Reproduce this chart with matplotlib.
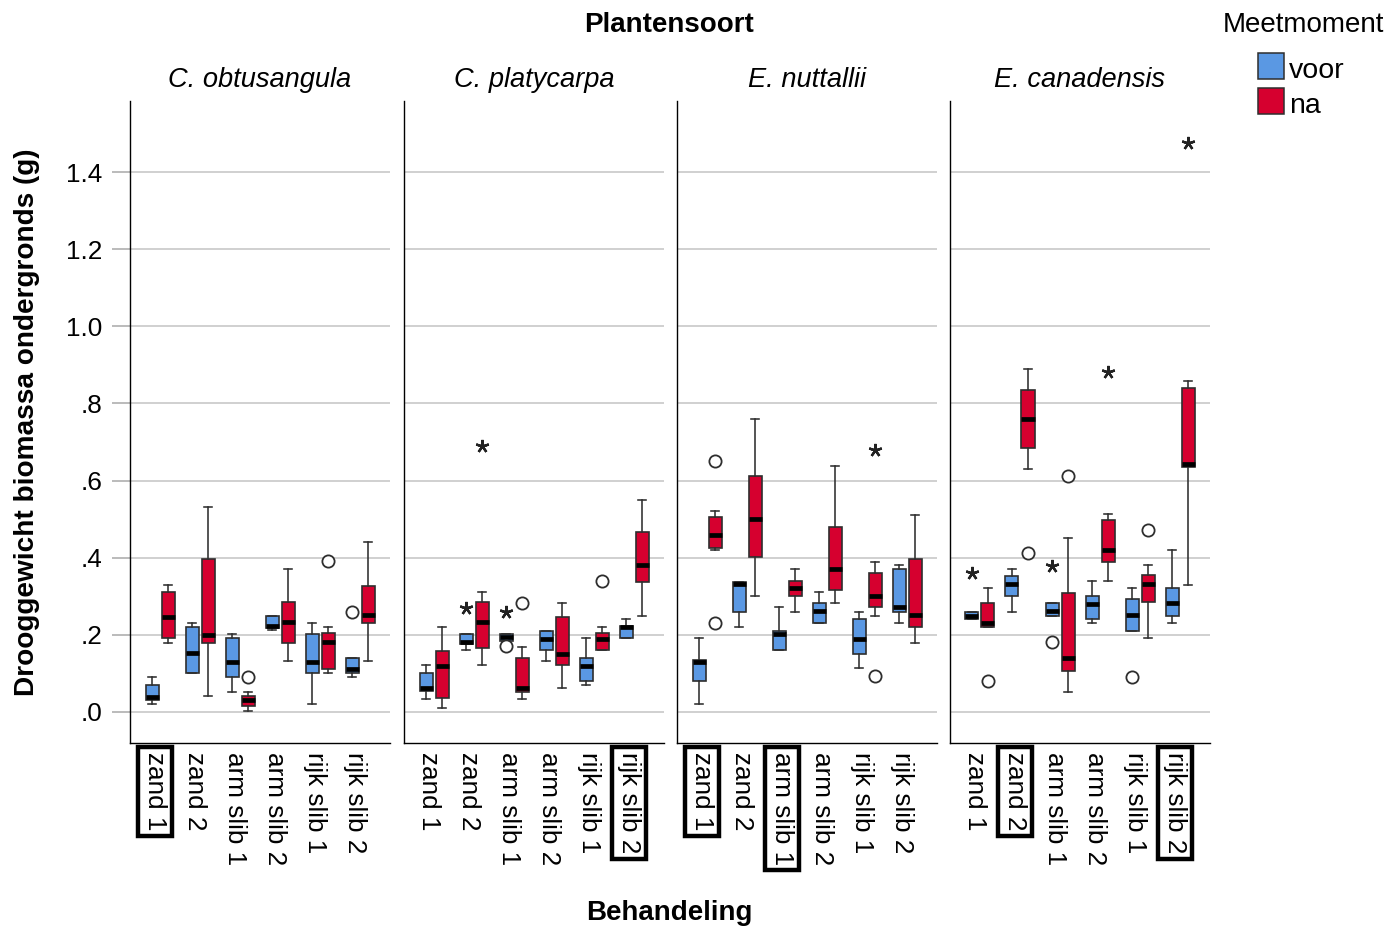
import matplotlib
matplotlib.use("Agg")
import matplotlib.pyplot as plt
from matplotlib.patches import Rectangle
from matplotlib.transforms import ScaledTranslation
import numpy as np

plt.rcParams["font.family"] = ["Liberation Sans", "DejaVu Sans"]

# ---------------------------------------------------------------- data
species = ["C. obtusangula", "C. platycarpa", "E. nuttallii", "E. canadensis"]
treatments = ["zand 1", "zand 2", "arm slib 1", "arm slib 2", "rijk slib 1", "rijk slib 2"]
moments = ["voor", "na"]

# five-number summaries per treatment: (whisker low, Q1, median, Q3, whisker high)
obtusangula_voor = [(0.020, 0.031, 0.039, 0.070, 0.089), (0.100, 0.100, 0.152, 0.221, 0.229),
                    (0.052, 0.089, 0.130, 0.191, 0.201), (0.211, 0.217, 0.223, 0.249, 0.249),
                    (0.019, 0.100, 0.130, 0.201, 0.229), (0.089, 0.100, 0.111, 0.140, 0.140)]
obtusangula_na = [(0.179, 0.192, 0.245, 0.310, 0.330), (0.042, 0.179, 0.200, 0.396, 0.530),
                  (0.001, 0.016, 0.030, 0.041, 0.052), (0.131, 0.178, 0.232, 0.284, 0.370),
                  (0.100, 0.112, 0.181, 0.203, 0.221), (0.131, 0.229, 0.251, 0.326, 0.441)]
platycarpa_voor = [(0.032, 0.054, 0.061, 0.100, 0.121), (0.160, 0.176, 0.182, 0.202, 0.202),
                   (0.184, 0.184, 0.195, 0.201, 0.201), (0.132, 0.160, 0.189, 0.210, 0.210),
                   (0.069, 0.080, 0.119, 0.140, 0.192), (0.192, 0.192, 0.219, 0.223, 0.240)]
platycarpa_na = [(0.010, 0.035, 0.119, 0.158, 0.221), (0.121, 0.166, 0.232, 0.284, 0.310),
                 (0.032, 0.050, 0.061, 0.140, 0.169), (0.061, 0.121, 0.150, 0.245, 0.281),
                 (0.160, 0.160, 0.189, 0.205, 0.221), (0.249, 0.336, 0.381, 0.466, 0.549)]
nuttallii_voor = [(0.019, 0.080, 0.128, 0.134, 0.192), (0.221, 0.259, 0.332, 0.337, 0.337),
                  (0.160, 0.160, 0.201, 0.210, 0.272), (0.230, 0.230, 0.261, 0.281, 0.310),
                  (0.113, 0.150, 0.190, 0.240, 0.259), (0.231, 0.259, 0.271, 0.370, 0.381)]
nuttallii_na = [(0.419, 0.426, 0.459, 0.505, 0.522), (0.300, 0.401, 0.501, 0.613, 0.760),
                (0.259, 0.300, 0.322, 0.338, 0.370), (0.281, 0.316, 0.370, 0.479, 0.638),
                (0.249, 0.271, 0.300, 0.361, 0.389), (0.179, 0.220, 0.251, 0.396, 0.511)]
canadensis_voor = [(0.240, 0.240, 0.248, 0.259, 0.259), (0.259, 0.300, 0.331, 0.352, 0.370),
                   (0.248, 0.248, 0.262, 0.281, 0.281), (0.229, 0.240, 0.280, 0.300, 0.339),
                   (0.210, 0.210, 0.251, 0.292, 0.320), (0.230, 0.248, 0.281, 0.320, 0.419)]
canadensis_na = [(0.221, 0.221, 0.231, 0.281, 0.320), (0.630, 0.684, 0.760, 0.835, 0.889),
                 (0.052, 0.106, 0.140, 0.307, 0.450), (0.339, 0.389, 0.420, 0.498, 0.512),
                 (0.192, 0.284, 0.331, 0.355, 0.380), (0.329, 0.636, 0.643, 0.841, 0.859)]

summaries = [
    {"voor": obtusangula_voor, "na": obtusangula_na},
    {"voor": platycarpa_voor, "na": platycarpa_na},
    {"voor": nuttallii_voor, "na": nuttallii_na},
    {"voor": canadensis_voor, "na": canadensis_na},
]

# outliers: (species index, treatment, moment, value, kind) - "o" mild, "*" extreme
outliers = [
    (0, "arm slib 1", "na", 0.091, "o"), (0, "rijk slib 1", "na", 0.391, "o"),
    (0, "rijk slib 2", "voor", 0.260, "o"),
    (1, "zand 2", "voor", 0.268, "*"), (1, "zand 2", "na", 0.690, "*"),
    (1, "arm slib 1", "voor", 0.171, "o"), (1, "arm slib 1", "voor", 0.260, "*"),
    (1, "arm slib 1", "na", 0.281, "o"), (1, "rijk slib 1", "na", 0.340, "o"),
    (2, "zand 1", "na", 0.651, "o"), (2, "zand 1", "na", 0.231, "o"),
    (2, "rijk slib 1", "na", 0.679, "*"), (2, "rijk slib 1", "na", 0.092, "o"),
    (3, "zand 1", "voor", 0.359, "*"), (3, "zand 1", "na", 0.080, "o"),
    (3, "zand 2", "na", 0.411, "o"), (3, "arm slib 1", "voor", 0.378, "*"),
    (3, "arm slib 1", "voor", 0.181, "o"), (3, "arm slib 1", "na", 0.612, "o"),
    (3, "arm slib 2", "na", 0.881, "*"), (3, "rijk slib 1", "voor", 0.091, "o"),
    (3, "rijk slib 1", "na", 0.472, "o"), (3, "rijk slib 2", "na", 1.477, "*"),
]

highlighted = [["zand 1"], ["rijk slib 2"], ["zand 1", "arm slib 1"], ["zand 2", "rijk slib 2"]]

yticks = [0.0, 0.2, 0.4, 0.6, 0.8, 1.0, 1.2, 1.4]
ytick_labels = [".0", ".2", ".4", ".6", ".8", "1.0", "1.2", "1.4"]

colors = {"voor": "#5A98E3", "na": "#D6002F"}
offsets = {"voor": -0.2, "na": 0.2}

# ---------------------------------------------------------------- layout (pixels)
W, H = 1389, 927
fig = plt.figure(figsize=(W / 100, H / 100), dpi=100)


def fx(x):
    return x / W


def fy(y):
    return 1 - y / H


panel_left = [130, 404, 677, 950]
panel_w = 260
top_px, bottom_px = 101, 743
edge = "#2e2e2e"

for i, name in enumerate(species):
    ax = fig.add_axes([fx(panel_left[i]), fy(bottom_px), panel_w / W, (bottom_px - top_px) / H])
    ax.set_xlim(-0.75, 5.75)
    ax.set_ylim(-0.0812, 1.585)
    ax.set_axisbelow(True)
    ax.yaxis.grid(True, color="#c4c4c4", lw=1.1)
    for s in ["top", "right"]:
        ax.spines[s].set_visible(False)
    for s in ["left", "bottom"]:
        ax.spines[s].set_color("black")
        ax.spines[s].set_linewidth(1.0)

    x = np.arange(len(treatments))
    for m in moments:
        stats = []
        for lo, q1, med, q3, hi in summaries[i][m]:
            stats.append(dict(whislo=lo, q1=q1, med=med, q3=q3, whishi=hi, fliers=[]))
        ax.bxp(stats, positions=x + offsets[m], widths=0.325, capwidths=0.19,
               patch_artist=True, showfliers=False, manage_ticks=False,
               boxprops=dict(facecolor=colors[m], edgecolor=edge, lw=1.2),
               medianprops=dict(color="black", lw=3.4, solid_capstyle="butt"),
               whiskerprops=dict(color=edge, lw=1.15),
               capprops=dict(color=edge, lw=1.15))

    for si, t, m, v, kind in outliers:
        if si != i:
            continue
        xp = treatments.index(t) + offsets[m]
        if kind == "o":
            ax.plot(xp, v, "o", ms=8.8, mfc="white", mec=edge, mew=1.3, zorder=5)
        else:
            ax.plot(xp, v, marker=(5, 2, 0), ms=9.5, color="#222222", mew=1.7, zorder=5)

    ax.set_yticks(yticks)
    if i == 0:
        ax.set_yticklabels(ytick_labels, fontsize=18.8)
        ax.tick_params(axis="y", length=13, width=1.1, color="#a8a8a8", pad=7)
    else:
        ax.set_yticklabels([])
        ax.tick_params(axis="y", length=0)

    ax.set_xticks(x)
    ax.set_xticklabels(treatments, rotation=270, fontsize=18.8, va="top", ha="center")
    ax.tick_params(axis="x", length=0, pad=6.5)
    shift = ScaledTranslation(-5 / 100, 0, fig.dpi_scale_trans)
    for lab in ax.get_xticklabels():
        lab.set_transform(lab.get_transform() + shift)
        if lab.get_text() in highlighted[i]:
            lab.set_bbox(dict(boxstyle="square,pad=0.2", fc="none", ec="black", lw=3.2))

    fig.text(fx(panel_left[i] + panel_w / 2), fy(87), name, style="italic",
             fontsize=19.6, ha="center", va="baseline")

# figure-level labels
fig.text(fx(669.5), fy(32), "Plantensoort", fontsize=20, fontweight="bold",
         ha="center", va="baseline")
fig.text(fx(669.5), fy(920), "Behandeling", fontsize=20, fontweight="bold",
         ha="center", va="baseline")
fig.text(fx(27), fy(422), "Drooggewicht biomassa ondergronds (g)", fontsize=20.2,
         fontweight="bold", rotation=90, ha="center", va="center")

# legend
fig.text(fx(1303), fy(32), "Meetmoment", fontsize=20, ha="center", va="baseline")
for m, y0, base in [("voor", 53, 78), ("na", 88, 113)]:
    fig.add_artist(Rectangle((fx(1258), fy(y0 + 26)), 26 / W, 26 / H,
                             transform=fig.transFigure, facecolor=colors[m],
                             edgecolor=edge, lw=1.1))
    fig.text(fx(1289), fy(base), m, fontsize=20.5, ha="left", va="baseline")

fig.savefig("out.png", dpi=100)
